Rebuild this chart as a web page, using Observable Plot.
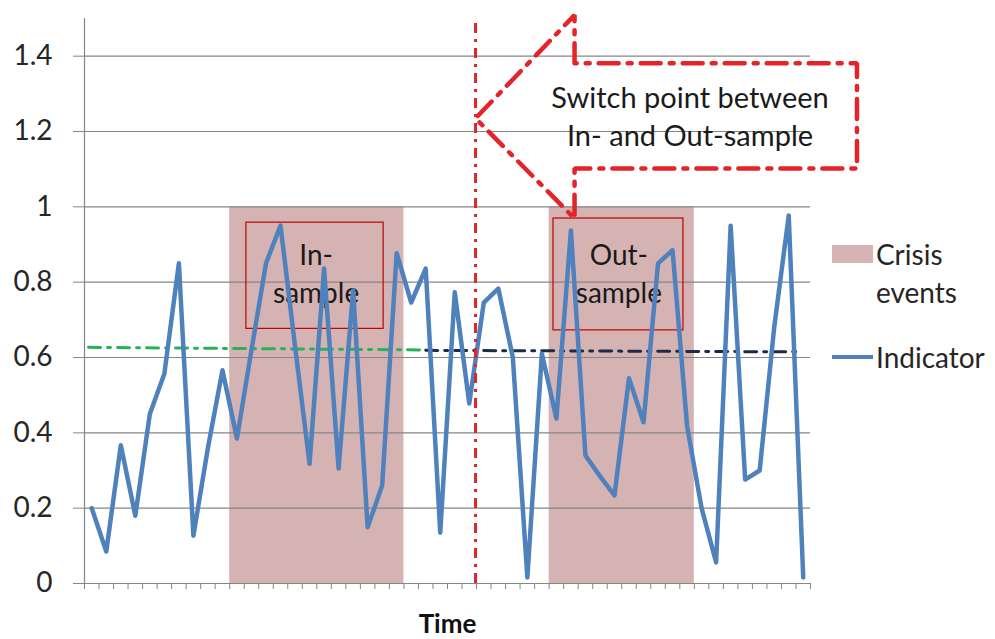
<!DOCTYPE html>
<html>
<head>
<meta charset="utf-8">
<script src="https://cdn.jsdelivr.net/npm/d3@7"></script>
<script src="https://cdn.jsdelivr.net/npm/@observablehq/plot@0.6"></script>
<style>
  html, body { margin: 0; padding: 0; background: #fff; }
  #wrap { position: relative; width: 995px; height: 639px; font-family: Lato, "Open Sans", sans-serif; color: #262626; }
  #wrap svg { position: absolute; left: 0; top: 0; }
  .leg { position: absolute; font-size: 28px; line-height: 38px; }
</style>
</head>
<body>
<div id="wrap"></div>
<script>
// ---- data ----
const indicator = [0.20,0.085,0.367,0.18,0.45,0.557,0.85,0.127,0.36,0.566,
                   0.385,0.62,0.85,0.95,0.63,0.318,0.836,0.305,0.778,0.149,
                   0.26,0.877,0.746,0.836,0.135,0.773,0.478,0.746,0.783,0.60,
                   0.016,0.61,0.438,0.937,0.34,0.285,0.234,0.545,0.428,0.85,
                   0.885,0.418,0.20,0.056,0.95,0.276,0.30,0.68,0.977,0.016];
const crisis = [0,0,0,0,0,0,0,0,0,0,
                1,1,1,1,1,1,1,1,1,1,
                1,1,0,0,0,0,0,0,0,0,
                0,0,1,1,1,1,1,1,1,1,
                1,1,0,0,0,0,0,0,0,0];
const yTicks = [0,0.2,0.4,0.6,0.8,1,1.2,1.4];
const xTicks = d3.range(0, 51);
// annotation anchors (data units)
const inThreshold = [{x:0.28,y:0.627},{x:23.5,y:0.620}];
const outThreshold = [{x:23.5,y:0.619},{x:49.2,y:0.615}];
const switchPoint = [26.93];
const sampleBoxes = [
  {x1:11.15, x2:20.6, y1:0.676, y2:0.958, cx:15.95, cy:0.828, label:"In-\nsample"},
  {x1:32.3, x2:41.25, y1:0.672, y2:0.969, cx:36.8, cy:0.828, label:"Out-\nsample"}
];
const callout = [
  {x:33.75,y:1.381},{x:33.75,y:1.509},{x:26.93,y:1.235},{x:33.75,y:0.969},
  {x:33.75,y:1.102},{x:53.2,y:1.102},{x:53.2,y:1.381},{x:33.75,y:1.381}
];
const calloutText = [{x:41.7, y:1.245, label:"Switch point between\nIn- and Out-sample"}];

const rows = indicator.map((v, i) => ({i, v, c: crisis[i]}));
// contiguous crisis periods -> one rect each
const bands = [];
rows.forEach(d => {
  if (!d.c) return;
  const last = bands[bands.length - 1];
  if (last && last.x2 === d.i && last.v === d.c) last.x2 = d.i + 1;
  else bands.push({x1: d.i, x2: d.i + 1, v: d.c});
});

const chart = Plot.plot({
  width: 995, height: 639,
  marginLeft: 84, marginRight: 185, marginTop: 18, marginBottom: 56,
  x: {domain: [0, 50]},
  y: {domain: [0, 1.5]},
  style: {fontFamily: "Lato, 'Open Sans', sans-serif", fontSize: "28px", color: "#262626", background: "transparent", overflow: "visible"},
  marks: [
    Plot.rect(bands, {x1: "x1", x2: "x2", y1: 0, y2: "v", fill: "#d6b3b3"}),
    Plot.gridY({ticks: yTicks.filter(t => t > 0), stroke: "#868686", strokeOpacity: 1, strokeWidth: 1.2}),
    Plot.axisY({ticks: yTicks, tickSize: 11, tickPadding: 21, stroke: "#868686", strokeOpacity: 1, tickFormat: d => String(+d.toFixed(1)), label: null}),
    Plot.axisX({ticks: xTicks, tickSize: 6, tickFormat: () => "", stroke: "#868686", strokeOpacity: 1, label: null}),
    Plot.ruleX([0], {y1: 0, y2: 1.5, stroke: "#868686", strokeWidth: 1.2}),
    Plot.ruleY([0], {x1: 0, x2: 50, stroke: "#868686", strokeWidth: 1.2}),
    Plot.rect(sampleBoxes, {x1: "x1", x2: "x2", y1: "y1", y2: "y2", fill: "none", stroke: "#c00000", strokeWidth: 1.2}),
    Plot.text(sampleBoxes, {x: "cx", y: "cy", text: "label", lineHeight: 1.36, fontSize: 28, fill: "#1a1a1a"}),
    Plot.line(inThreshold, {x: "x", y: "y", stroke: "#2bb05a", strokeWidth: 3, strokeDasharray: "12,7,3,7"}),
    Plot.line(outThreshold, {x: "x", y: "y", stroke: "#1c2b4a", strokeWidth: 3, strokeDasharray: "12,7,3,7"}),
    Plot.line(rows, {x: d => d.i + 0.5, y: "v", stroke: "#4f81bd", strokeWidth: 4.5, strokeLinejoin: "round"}),
    Plot.ruleX(switchPoint, {y1: 0, y2: 1.487, stroke: "#e3242b", strokeWidth: 3, strokeDasharray: "10,6,3,6"}),
    Plot.line(callout, {x: "x", y: "y", stroke: "#e3242b", strokeWidth: 4.5, strokeDasharray: "20,9,4,9", strokeLinejoin: "miter"}),
    Plot.text(calloutText, {x: "x", y: "y", text: "label", lineHeight: 1.32, fontSize: 29, fill: "#1a1a1a"}),
    Plot.text(["Time"], {frameAnchor: "bottom", lineAnchor: "middle", dy: 41, fontWeight: "bold", fontSize: 26, fill: "#111"})
  ]
});

const wrap = document.getElementById("wrap");
wrap.appendChild(chart);

// legend (HTML overlay)
function add(html, css) {
  const d = document.createElement("div");
  d.innerHTML = html;
  Object.assign(d.style, css);
  wrap.appendChild(d);
  return d;
}
add("", {position: "absolute", left: "832px", top: "245px", width: "41px", height: "18px", background: "#d6b3b3"});
const l1 = add("Crisis<br>events", {left: "876px", top: "235px"}); l1.className = "leg";
add("", {position: "absolute", left: "832px", top: "355px", width: "41px", height: "4px", background: "#4f81bd"});
const l2 = add("Indicator", {left: "876px", top: "338px"}); l2.className = "leg";
</script>
</body>
</html>
